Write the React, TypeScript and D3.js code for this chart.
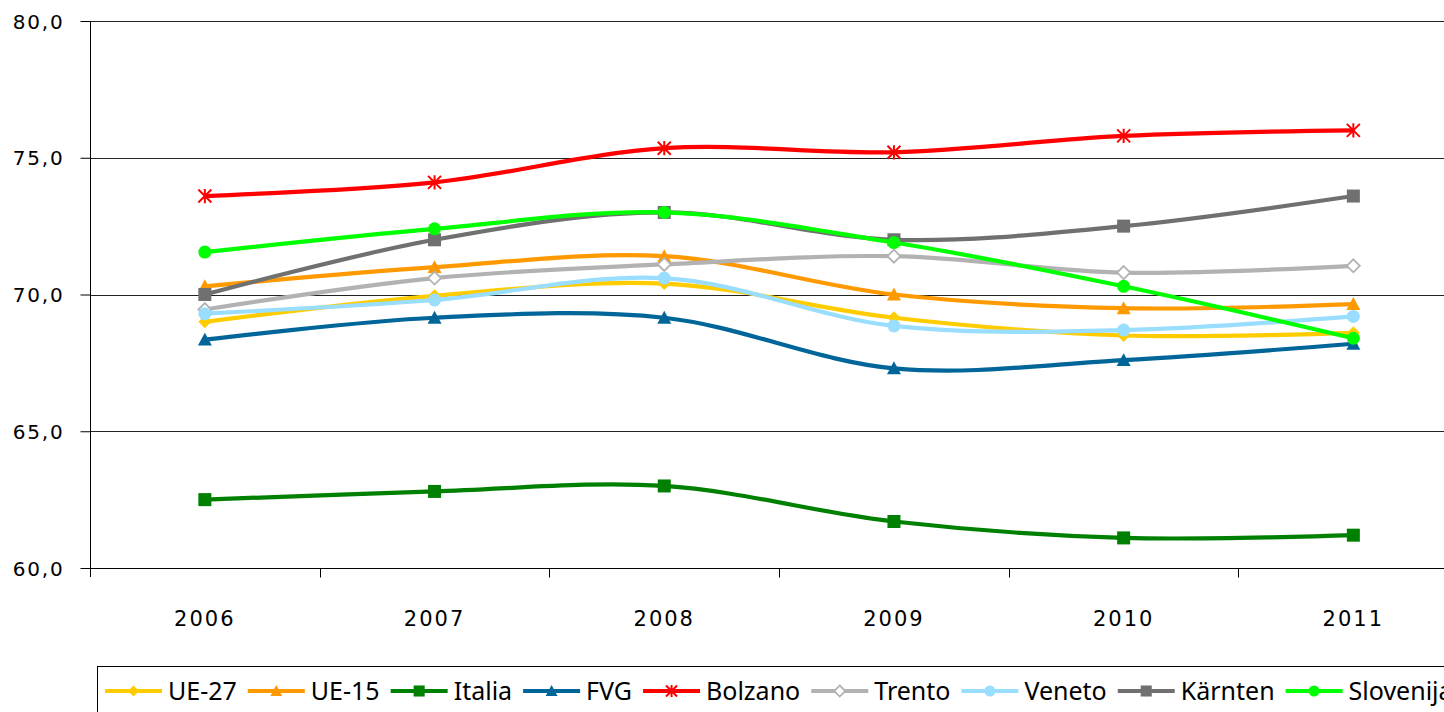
import React, { useRef, useEffect } from "react";
import * as d3 from "d3";

const years = ["2006", "2007", "2008", "2009", "2010", "2011"];
const yTicks = [60, 65, 70, 75, 80];

const ue27 = [69.0, 69.95, 70.4, 69.15, 68.5, 68.6];
const ue15 = [70.3, 71.0, 71.4, 70.0, 69.5, 69.65];
const italia = [62.5, 62.8, 63.0, 61.7, 61.1, 61.2];
const fvg = [68.35, 69.15, 69.15, 67.3, 67.6, 68.2];
const bolzano = [73.6, 74.1, 75.35, 75.2, 75.8, 76.0];
const trento = [69.45, 70.6, 71.1, 71.4, 70.8, 71.05];
const veneto = [69.3, 69.8, 70.6, 68.85, 68.7, 69.2];
const karnten = [70.0, 72.0, 73.0, 72.0, 72.5, 73.6];
const slovenija = [71.55, 72.4, 73.0, 71.9, 70.3, 68.4];

const series = [
  { name: "UE-27", values: ue27, color: "#FFCC00", marker: "diamond" },
  { name: "UE-15", values: ue15, color: "#FF9900", marker: "triangle" },
  { name: "Italia", values: italia, color: "#008000", marker: "square" },
  { name: "FVG", values: fvg, color: "#006699", marker: "triangle" },
  { name: "Bolzano", values: bolzano, color: "#FF0000", marker: "star" },
  { name: "Trento", values: trento, color: "#B2B2B2", marker: "hollowDiamond" },
  { name: "Veneto", values: veneto, color: "#99DDFF", marker: "circle" },
  { name: "Kärnten", values: karnten, color: "#707070", marker: "square" },
  { name: "Slovenija", values: slovenija, color: "#00FF00", marker: "circle" },
];

const W = 1444;
const H = 712;
const font = "'DejaVu Sans', Verdana, sans-serif";
const legendFont = "'Noto Sans', sans-serif";

function drawMarker(g, type, color, x, y, k = 1) {
  if (type === "diamond" || type === "hollowDiamond") {
    const s = 6.5 * k;
    g.append("path")
      .attr("d", `M${x},${y - s}L${x + s},${y}L${x},${y + s}L${x - s},${y}Z`)
      .attr("fill", type === "hollowDiamond" ? "#fff" : color)
      .attr("stroke", color)
      .attr("stroke-width", type === "hollowDiamond" ? 1.8 : 0);
  } else if (type === "triangle") {
    const s = 7 * k;
    g.append("path")
      .attr("d", `M${x},${y - s}L${x + s},${y + s * 0.85}L${x - s},${y + s * 0.85}Z`)
      .attr("fill", color);
  } else if (type === "square") {
    const s = 6.5 * k;
    g.append("rect")
      .attr("x", x - s).attr("y", y - s)
      .attr("width", 2 * s).attr("height", 2 * s)
      .attr("fill", color);
  } else if (type === "circle") {
    g.append("circle").attr("cx", x).attr("cy", y).attr("r", 6.5 * k).attr("fill", color);
  } else if (type === "star") {
    const s = 6.5 * k;
    g.append("path")
      .attr("d", `M${x - s},${y - s}L${x + s},${y + s}M${x - s},${y + s}L${x + s},${y - s}M${x},${y - s * 1.1}L${x},${y + s * 1.1}`)
      .attr("stroke", color)
      .attr("stroke-width", 2)
      .attr("fill", "none");
  }
}

const App = () => {
  const svgRef = useRef(null);

  useEffect(() => {
    const svg = d3.select(svgRef.current);
    svg.selectAll("*").remove();

    const left = 90;
    const top = 21;
    const bottom = 568;
    const bandW = 229.7;

    const x = d3.scaleBand().domain(years).range([left, left + bandW * years.length]);
    const y = d3.scaleLinear().domain([60, 80]).range([bottom, top]);

    // gridlines
    svg.append("g")
      .selectAll("line")
      .data(yTicks.filter((t) => t > 60))
      .join("line")
      .attr("x1", left).attr("x2", W)
      .attr("y1", (d) => Math.round(y(d)) + 0.5).attr("y2", (d) => Math.round(y(d)) + 0.5)
      .attr("stroke", "#222").attr("stroke-width", 1);

    // y axis
    const yAxis = svg.append("g")
      .attr("transform", `translate(${left + 0.5},0)`)
      .call(d3.axisLeft(y).tickValues(yTicks).tickSize(10).tickPadding(16)
        .tickFormat((d) => d3.format(".1f")(d).replace(".", ",")));
    yAxis.select(".domain").attr("d", `M0,${top}V${bottom + 9}`).attr("stroke", "#000");
    yAxis.selectAll(".tick line").attr("stroke", "#000");
    yAxis.selectAll("text")
      .attr("font-family", font).attr("font-size", 20).attr("letter-spacing", 1.8)
      .attr("fill", "#000").attr("dy", "0.36em");

    // x axis
    const xAxis = svg.append("g").attr("transform", `translate(0,${bottom + 0.5})`);
    xAxis.append("line").attr("x1", left).attr("x2", W).attr("stroke", "#000");
    xAxis.selectAll("line.tk")
      .data(years.slice(1))
      .join("line")
      .attr("class", "tk")
      .attr("x1", (d) => Math.round(x(d)) + 0.5).attr("x2", (d) => Math.round(x(d)) + 0.5)
      .attr("y1", 0).attr("y2", 9)
      .attr("stroke", "#000");
    xAxis.selectAll("text")
      .data(years)
      .join("text")
      .attr("x", (d) => x(d) + x.bandwidth() / 2)
      .attr("y", 57)
      .attr("text-anchor", "middle")
      .attr("font-family", font)
      .attr("font-size", 21)
      .attr("letter-spacing", 2)
      .text((d) => d);

    const line = d3.line()
      .x((d, i) => x(years[i]) + x.bandwidth() / 2)
      .y((d) => y(d))
      .curve(d3.curveCatmullRom.alpha(0.5));

    series.forEach((s) => {
      const g = svg.append("g");
      g.append("path")
        .datum(s.values)
        .attr("d", line)
        .attr("fill", "none")
        .attr("stroke", s.color)
        .attr("stroke-width", 4.2);
      s.values.forEach((v, i) => {
        drawMarker(g, s.marker, s.color, x(years[i]) + x.bandwidth() / 2, y(v));
      });
    });

    // legend
    const lg = svg.append("g");
    lg.append("rect")
      .attr("x", 97.5).attr("y", 666.5)
      .attr("width", 1400).attr("height", 60)
      .attr("fill", "#fff").attr("stroke", "#000");
    let cx = 105;
    const cy = 691;
    series.forEach((s) => {
      lg.append("line")
        .attr("x1", cx).attr("x2", cx + 57)
        .attr("y1", cy).attr("y2", cy)
        .attr("stroke", s.color).attr("stroke-width", 4);
      drawMarker(lg, s.marker, s.color, cx + 28.5, cy, 0.85);
      const t = lg.append("text")
        .attr("x", cx + 63)
        .attr("y", cy)
        .attr("dy", "0.36em")
        .attr("font-family", legendFont)
        .attr("font-size", 25)
        .text(s.name);
      const w = t.node().getComputedTextLength();
      cx = cx + 63 + w + 11;
    });
  }, []);

  return <svg ref={svgRef} width={W} height={H} style={{ position: "absolute", left: 0, top: 0 }}></svg>;
};

export default App;
